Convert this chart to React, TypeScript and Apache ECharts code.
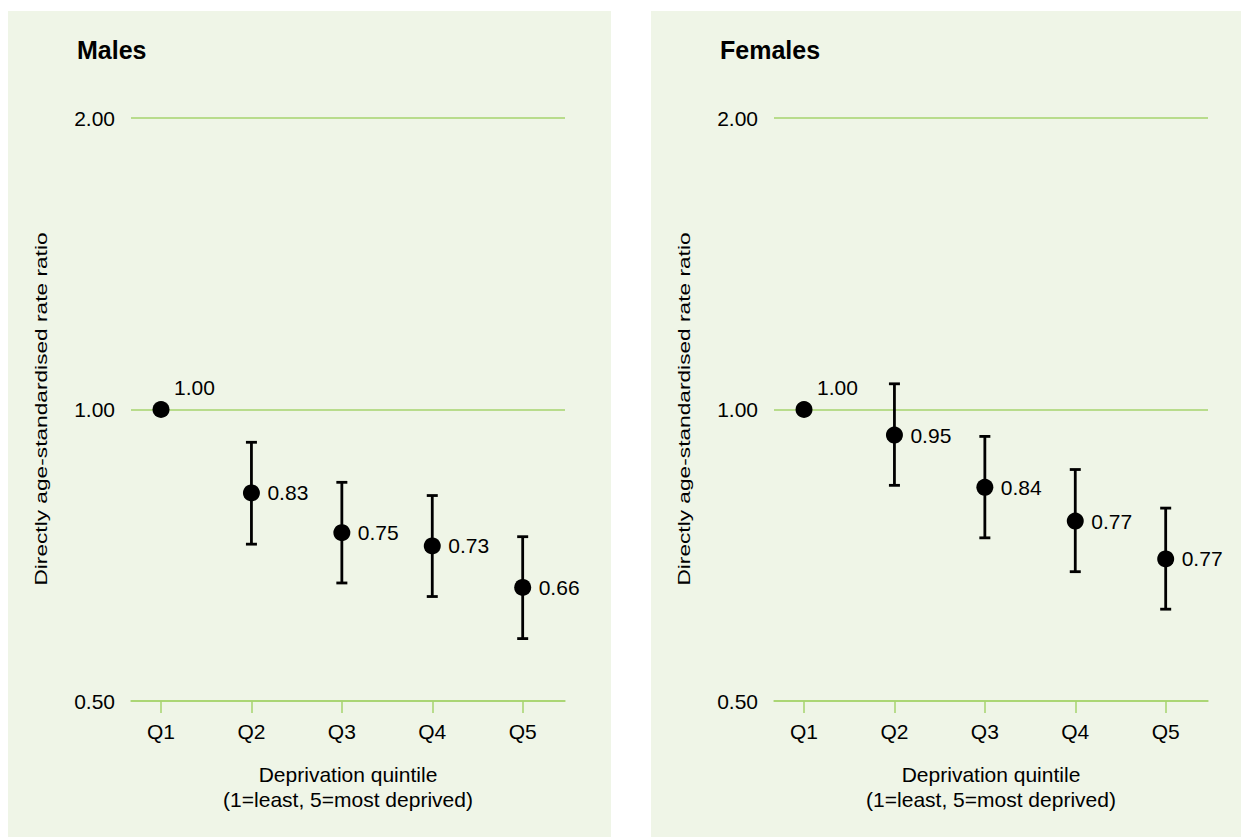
import React, { useEffect, useRef } from "react";
import * as echarts from "echarts";

const categories = ["Q1", "Q2", "Q3", "Q4", "Q5"];
const positions = [1, 2, 3, 4, 5];

const maleRatio = [1.0, 0.82, 0.746, 0.723, 0.655];
const maleLabels = ["1.00", "0.83", "0.75", "0.73", "0.66"];
const maleLower = [null, 0.726, 0.662, 0.641, 0.58];
const maleUpper = [null, 0.925, 0.841, 0.815, 0.739];

const femaleRatio = [1.0, 0.941, 0.831, 0.767, 0.701];
const femaleLabels = ["1.00", "0.95", "0.84", "0.77", "0.77"];
const femaleLower = [null, 0.835, 0.737, 0.68, 0.622];
const femaleUpper = [null, 1.063, 0.938, 0.867, 0.791];

const yTickValues = [0.5, 1, 2];
const panelTitles = ["Males", "Females"];
const yAxisTitle = "Directly age-standardised rate ratio";
const xAxisTitle = "Deprivation quintile\n(1=least, 5=most deprived)";

const FONT = "'Liberation Sans', Arial, Helvetica, sans-serif";
const BG = "#eff5e7";
const GREEN = "#a6d36e";
const TEXT = "#000000";
const FS = 21;

export default function App() {
  const ref = useRef<HTMLDivElement>(null);

  useEffect(() => {
    if (!ref.current) return;
    const chart = echarts.init(ref.current, undefined, { renderer: "svg" });

    const panels = [
      { ratio: maleRatio, labels: maleLabels, lower: maleLower, upper: maleUpper },
      { ratio: femaleRatio, labels: femaleLabels, lower: femaleLower, upper: femaleUpper },
    ];
    const gridLefts = [131, 774];
    const panelRects = [
      { x: 8, y: 11, w: 603, h: 826 },
      { x: 651, y: 11, w: 590, h: 826 },
    ];

    const xAxes: any[] = [];
    const yAxes: any[] = [];
    const series: any[] = [];
    const graphics: any[] = [];

    panels.forEach((p, i) => {
      const r = panelRects[i];
      graphics.push({
        type: "rect",
        z: -10,
        shape: { x: r.x, y: r.y, width: r.w, height: r.h },
        style: { fill: BG },
        silent: true,
      });
      graphics.push({
        type: "text",
        x: gridLefts[i] - 54,
        y: 50,
        style: {
          text: panelTitles[i],
          font: `bold 25px ${FONT}`,
          fill: TEXT,
          align: "left",
          verticalAlign: "middle",
        },
      });
      graphics.push({
        type: "text",
        x: gridLefts[i] - 90,
        y: 409,
        rotation: Math.PI / 2,
        scaleX: 1.42,
        style: {
          text: yAxisTitle,
          font: `16px ${FONT}`,
          fill: TEXT,
          align: "center",
          verticalAlign: "middle",
        },
      });

      xAxes.push({
        type: "value",
        gridIndex: i,
        min: 0.668,
        max: 5.468,
        axisLine: { show: true, lineStyle: { color: GREEN, width: 1.5 } },
        axisTick: {
          show: true,
          customValues: positions,
          length: 12,
          lineStyle: { color: GREEN, width: 1.5 },
        },
        axisLabel: {
          customValues: positions,
          formatter: (v: number) => categories[Math.round(v) - 1] ?? "",
          margin: 20,
          fontSize: FS,
          color: TEXT,
          fontFamily: FONT,
        },
        splitLine: { show: false },
        name: xAxisTitle,
        nameLocation: "middle",
        nameGap: 61,
        nameTextStyle: { fontSize: FS, lineHeight: 25, color: TEXT, fontFamily: FONT },
      });

      yAxes.push({
        type: "log",
        logBase: 2,
        gridIndex: i,
        min: yTickValues[0],
        max: yTickValues[yTickValues.length - 1],
        axisLine: { show: false },
        axisTick: { show: false },
        axisLabel: {
          formatter: (v: number) => Number(v).toFixed(2),
          margin: 16,
          fontSize: FS,
          color: TEXT,
          fontFamily: FONT,
        },
        splitLine: { show: true, lineStyle: { color: GREEN, width: 1.5 } },
      });

      const errData = positions
        .map((x, k) => (p.lower[k] == null ? null : [x, p.lower[k], p.upper[k]]))
        .filter((d) => d !== null);

      series.push({
        type: "custom",
        xAxisIndex: i,
        yAxisIndex: i,
        z: 3,
        data: errData,
        encode: { x: 0, y: [1, 2] },
        renderItem: (params: any, api: any) => {
          const x = api.value(0);
          const lo = api.coord([x, api.value(1)]);
          const hi = api.coord([x, api.value(2)]);
          const half = 5.5;
          const style = { stroke: "#000", lineWidth: 2.8 };
          return {
            type: "group",
            children: [
              { type: "line", shape: { x1: lo[0], y1: lo[1], x2: hi[0], y2: hi[1] }, style },
              { type: "line", shape: { x1: hi[0] - half, y1: hi[1], x2: hi[0] + half, y2: hi[1] }, style },
              { type: "line", shape: { x1: lo[0] - half, y1: lo[1], x2: lo[0] + half, y2: lo[1] }, style },
            ],
          };
        },
      });

      series.push({
        type: "scatter",
        xAxisIndex: i,
        yAxisIndex: i,
        z: 5,
        symbol: "circle",
        symbolSize: 17,
        itemStyle: { color: "#000", opacity: 1 },
        emphasis: { disabled: true },
        data: positions.map((x, k) => {
          const item: any = { value: [x, p.ratio[k]] };
          if (k === 0) {
            item.label = { offset: [-3, -22] };
          }
          return item;
        }),
        label: {
          show: true,
          position: "right",
          distance: 7.5,
          fontSize: FS,
          color: TEXT,
          fontFamily: FONT,
          formatter: (prm: any) => p.labels[prm.dataIndex],
        },
      });
    });

    chart.setOption({
      animation: false,
      backgroundColor: "#ffffff",
      textStyle: { fontFamily: FONT },
      grid: gridLefts.map((l) => ({ left: l, top: 118, width: 434, height: 583 })),
      xAxis: xAxes,
      yAxis: yAxes,
      graphic: { elements: graphics },
      series,
    });

    return () => chart.dispose();
  }, []);

  return (
    <div
      ref={ref}
      style={{ position: "fixed", left: 0, top: 0, width: 1241, height: 837 }}
    />
  );
}
